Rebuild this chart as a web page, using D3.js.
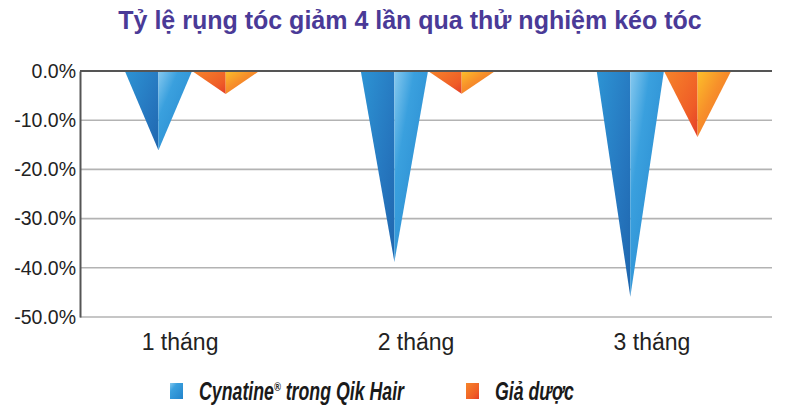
<!DOCTYPE html>
<html>
<head>
<meta charset="utf-8">
<script src="https://cdn.jsdelivr.net/npm/d3@7"></script>
<style>
  body { margin: 0; background: #fff; }
  svg { display: block; }
  .tick text { font-family: "Liberation Sans", Arial, sans-serif; fill: #222; }
</style>
</head>
<body>
<script>
var categories = ["1 tháng", "2 tháng", "3 tháng"];
var seriesNames = ["Cynatine", "Giả dược"];
var cynatine = [-16.1, -38.8, -45.9];
var placebo = [-4.7, -4.6, -13.4];
var yTicks = [0, -10, -20, -30, -40, -50];

var W = 800, H = 418;
var margin = {top: 71, right: 28, bottom: 101, left: 80},
    width = W - margin.left - margin.right,
    height = H - margin.top - margin.bottom;

var svg = d3.select("body").append("svg")
    .attr("width", W)
    .attr("height", H);

// gradients for the two halves of each triangle
var defs = svg.append("defs");
function grad(id, stops) {
  var g = defs.append("linearGradient").attr("id", id)
      .attr("x1", "0").attr("y1", "0").attr("x2", "1").attr("y2", "1");
  stops.forEach(function (s) {
    g.append("stop").attr("offset", s[0]).attr("stop-color", s[1]);
  });
}
grad("blueL", [[0, "#2d94d4"], [0.6, "#2677bf"], [1, "#1f66ae"]]);
grad("blueR", [[0, "#86c9ef"], [0.3, "#3aa0de"], [1, "#2384cb"]]);
grad("orangeL", [[0, "#f6852a"], [0.7, "#ef5c27"], [1, "#e43d28"]]);
grad("orangeR", [[0, "#fcc02a"], [0.4, "#f7902a"], [1, "#ef6127"]]);

svg.append("text")
    .attr("x", 410).attr("y", 29)
    .attr("text-anchor", "middle")
    .style("font-family", "'Liberation Sans', Arial, sans-serif")
    .style("font-weight", "bold")
    .style("font-size", "25px")
    .style("fill", "#4a3a97")
    .text("Tỷ lệ rụng tóc giảm 4 lần qua thử nghiệm kéo tóc");

var g = svg.append("g")
    .attr("transform", "translate(" + margin.left + "," + margin.top + ")");

var x = d3.scaleBand()
    .domain(categories)
    .range([0, width + 4])
    .paddingInner(0.43)
    .paddingOuter(0.19);

var xs = d3.scaleBand()
    .domain([0, 1])
    .range([0, x.bandwidth()]);

var y = d3.scaleLinear()
    .domain([0, -50])
    .range([0, height]);

// grid lines
g.append("g")
    .selectAll("line")
    .data(yTicks.filter(function (d) { return d !== 0; }))
    .enter().append("line")
    .attr("x1", 0).attr("x2", width)
    .attr("y1", function (d) { return y(d); })
    .attr("y2", function (d) { return y(d); })
    .attr("stroke", "#b3b3b3")
    .attr("stroke-width", 1.6);

// y axis
var yAxis = g.append("g")
    .call(d3.axisLeft(y).tickValues(yTicks).tickSize(0).tickPadding(4)
      .tickFormat(function (d) { return d.toFixed(1) + "%"; }));
yAxis.select(".domain").attr("stroke", "#555").attr("stroke-width", 2);
yAxis.selectAll(".tick text").style("font-size", "19.5px");

// triangles
var rows = categories.map(function (c, i) {
  return [{cat: c, s: 0, v: cynatine[i]}, {cat: c, s: 1, v: placebo[i]}];
});
var tri = g.append("g").selectAll("g")
    .data(d3.merge(rows))
    .enter().append("g");

tri.append("path")
    .attr("fill", function (d) { return d.s === 0 ? "url(#blueL)" : "url(#orangeL)"; })
    .attr("d", function (d) {
      var x0 = x(d.cat) + xs(d.s), xm = x0 + xs.bandwidth() / 2;
      return "M" + x0 + "," + y(0) + "L" + xm + "," + y(0) + "L" + xm + "," + y(d.v) + "Z";
    });
tri.append("path")
    .attr("fill", function (d) { return d.s === 0 ? "url(#blueR)" : "url(#orangeR)"; })
    .attr("d", function (d) {
      var x0 = x(d.cat) + xs(d.s), xm = x0 + xs.bandwidth() / 2, x1 = x0 + xs.bandwidth();
      return "M" + xm + "," + y(0) + "L" + x1 + "," + y(0) + "L" + xm + "," + y(d.v) + "Z";
    });

// zero line on top
g.append("line")
    .attr("x1", 0).attr("x2", width)
    .attr("y1", y(0)).attr("y2", y(0))
    .attr("stroke", "#555")
    .attr("stroke-width", 2);

// x labels (sit a little left of the group centres in the original)
g.append("g")
    .attr("transform", "translate(-12," + (height + 12) + ")")
    .call(d3.axisBottom(x).tickSize(0).tickPadding(0))
    .call(function (a) { a.select(".domain").remove(); })
    .selectAll(".tick text")
    .style("font-size", "23px")
    .attr("dy", "0.9em");

// legend
var legendX = [170, 466];
var legend = svg.append("g").selectAll("g")
    .data(seriesNames)
    .enter().append("g")
    .attr("transform", function (d, i) { return "translate(" + legendX[i] + ",383)"; });
legend.append("rect")
    .attr("width", 13).attr("height", 16)
    .attr("fill", function (d, i) { return i === 0 ? "url(#blueR)" : "url(#orangeL)"; });
var lt = legend.append("text")
    .attr("transform", "translate(29,16.5) scale(0.71,1)")
    .style("font-family", "'Liberation Sans', Arial, sans-serif")
    .style("font-weight", "bold")
    .style("font-style", "italic")
    .style("font-size", "25px")
    .style("fill", "#1a1a1a");
lt.append("tspan").text(function (d) { return d; });
lt.filter(function (d, i) { return i === 0; })
    .call(function (t) {
      t.append("tspan").attr("dy", -9).style("font-size", "13px").text("®");
      t.append("tspan").attr("dy", 9).text(" trong Qik Hair");
    });
</script>
</body>
</html>
